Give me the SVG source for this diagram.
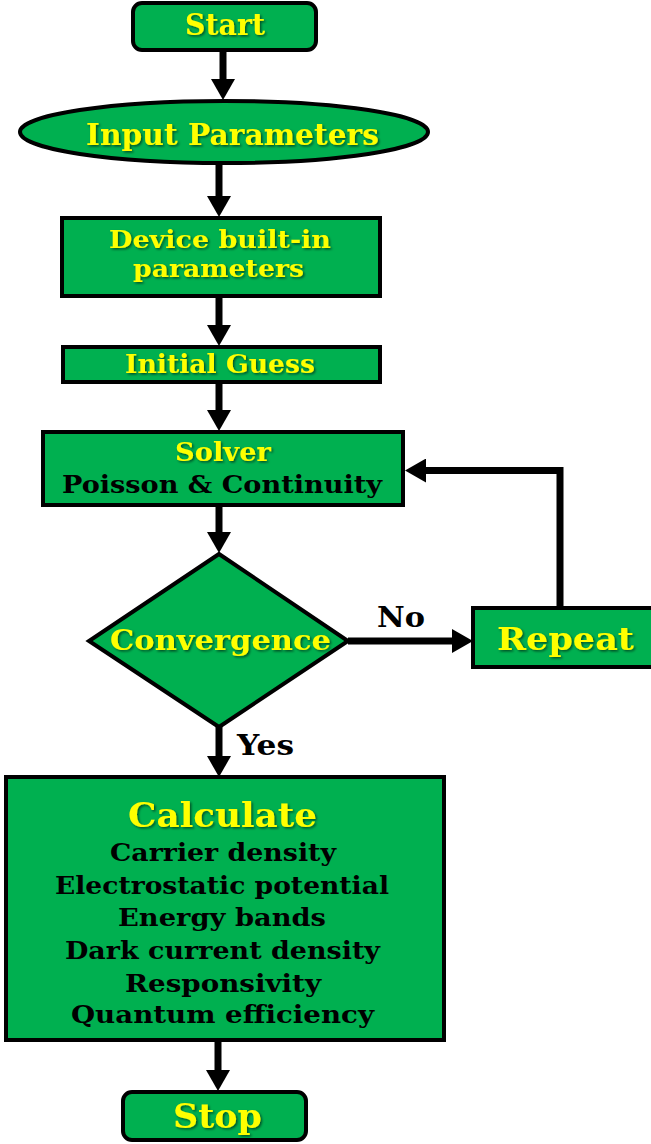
<svg xmlns="http://www.w3.org/2000/svg" width="651" height="1144" viewBox="0 0 651 1144">
<style>
.box{fill:#00B050;stroke:#000;stroke-width:4}
.t{font-family:"DejaVu Serif","Liberation Serif",serif;font-weight:bold}
.y{fill:#FFFF00;filter:url(#sh)}
.k{fill:#000}
.c{fill:none;stroke:#000;stroke-width:7}
</style>
<defs>
<filter id="sh" x="-10%" y="-30%" width="120%" height="160%">
<feDropShadow dx="1.5" dy="1.5" stdDeviation="1" flood-color="#000" flood-opacity="0.55"/>
</filter>
<marker id="ah" viewBox="0 0 21 24" markerWidth="21" markerHeight="24" refX="3" refY="12" orient="auto" markerUnits="userSpaceOnUse">
<path d="M0,0 L21,12 L0,24 Z" fill="#000"/>
</marker>
</defs>
<rect width="651" height="1144" fill="#fff"/>
<g id="connectors">
<line class="c" x1="223" y1="50" x2="223" y2="82" marker-end="url(#ah)"/>
<line class="c" x1="219" y1="163" x2="219" y2="199" marker-end="url(#ah)"/>
<line class="c" x1="219" y1="297" x2="219" y2="328" marker-end="url(#ah)"/>
<line class="c" x1="219" y1="382" x2="219" y2="413" marker-end="url(#ah)"/>
<line class="c" x1="219" y1="505" x2="219" y2="535" marker-end="url(#ah)"/>
<line class="c" x1="348" y1="641" x2="455" y2="641" marker-end="url(#ah)"/>
<polyline class="c" points="560,608 560,470.5 423,470.5" marker-end="url(#ah)"/>
<line class="c" x1="219" y1="727" x2="219" y2="759" marker-end="url(#ah)"/>
<line class="c" x1="218" y1="1040" x2="218" y2="1073" marker-end="url(#ah)"/>
<text class="t k" x="377" y="627" font-size="27" textLength="48" lengthAdjust="spacingAndGlyphs">No</text>
<text class="t k" x="237" y="755" font-size="27" textLength="57" lengthAdjust="spacingAndGlyphs">Yes</text>
</g>
<g id="start">
<rect class="box" x="133" y="3" width="183" height="47" rx="9"/>
<text class="t y" x="185" y="35" font-size="29" textLength="80" lengthAdjust="spacingAndGlyphs">Start</text>
</g>
<g id="input">
<ellipse class="box" cx="224" cy="132" rx="204" ry="31" stroke-width="3.5"/>
<text class="t y" x="86" y="145" font-size="29" textLength="293" lengthAdjust="spacingAndGlyphs">Input Parameters</text>
</g>
<g id="device">
<rect class="box" x="62" y="218" width="318" height="78"/>
<text class="t y" x="109" y="248" font-size="25" textLength="222" lengthAdjust="spacingAndGlyphs">Device built-in</text>
<text class="t y" x="133" y="277" font-size="25" textLength="171" lengthAdjust="spacingAndGlyphs">parameters</text>
</g>
<g id="initial">
<rect class="box" x="63" y="347" width="317" height="35"/>
<text class="t y" x="125" y="373" font-size="26" textLength="190" lengthAdjust="spacingAndGlyphs">Initial Guess</text>
</g>
<g id="solver">
<rect class="box" x="43" y="432" width="360" height="73"/>
<text class="t y" x="175" y="461" font-size="26" textLength="96" lengthAdjust="spacingAndGlyphs">Solver</text>
<text class="t k" x="62" y="493" font-size="25" textLength="320" lengthAdjust="spacingAndGlyphs">Poisson &amp; Continuity</text>
</g>
<g id="convergence">
<polygon class="box" points="219,554 348,641 219,727 89,641" stroke-width="3.5"/>
<text class="t y" x="110" y="650" font-size="28" textLength="221" lengthAdjust="spacingAndGlyphs">Convergence</text>
</g>
<g id="repeat">
<rect class="box" x="473" y="608" width="182" height="59"/>
<text class="t y" x="497" y="650" font-size="32" textLength="137" lengthAdjust="spacingAndGlyphs">Repeat</text>
</g>
<g id="calculate">
<rect class="box" x="6" y="777" width="438" height="263"/>
<text class="t y" x="128" y="827" font-size="34" textLength="189" lengthAdjust="spacingAndGlyphs">Calculate</text>
<text class="t k" x="110" y="861" font-size="25" textLength="226" lengthAdjust="spacingAndGlyphs">Carrier density</text>
<text class="t k" x="55" y="894" font-size="25" textLength="334" lengthAdjust="spacingAndGlyphs">Electrostatic potential</text>
<text class="t k" x="118" y="926" font-size="25" textLength="208" lengthAdjust="spacingAndGlyphs">Energy bands</text>
<text class="t k" x="65" y="959" font-size="25" textLength="315" lengthAdjust="spacingAndGlyphs">Dark current density</text>
<text class="t k" x="125" y="992" font-size="25" textLength="196" lengthAdjust="spacingAndGlyphs">Responsivity</text>
<text class="t k" x="71" y="1023" font-size="25" textLength="303" lengthAdjust="spacingAndGlyphs">Quantum efficiency</text>
</g>
<g id="stop">
<rect class="box" x="123" y="1092" width="183" height="48" rx="9"/>
<text class="t y" x="173" y="1128" font-size="34" textLength="89" lengthAdjust="spacingAndGlyphs">Stop</text>
</g>
</svg>
